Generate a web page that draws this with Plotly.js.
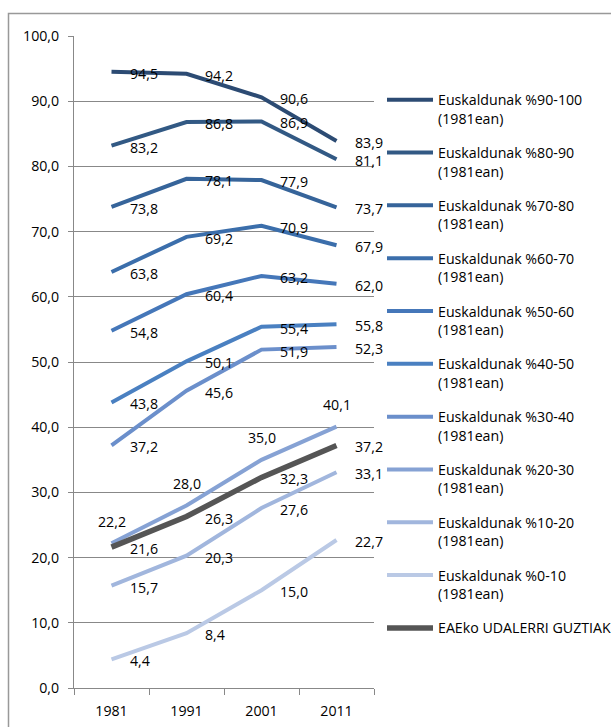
<!DOCTYPE html>
<html>
<head>
<meta charset="utf-8">
<script src="https://cdn.plot.ly/plotly-3.0.1.min.js"></script>
<style>html,body{margin:0;padding:0;background:#fff;}</style>
</head>
<body>
<div id="chart" style="width:611px;height:727px;"></div>
<script>
// ---- data ----
var years = ['1981', '1991', '2001', '2011'];
var seriesNames = [
  'Euskaldunak %90-100<br>(1981ean)',
  'Euskaldunak %80-90<br>(1981ean)',
  'Euskaldunak %70-80<br>(1981ean)',
  'Euskaldunak %60-70<br>(1981ean)',
  'Euskaldunak %50-60<br>(1981ean)',
  'Euskaldunak %40-50<br>(1981ean)',
  'Euskaldunak %30-40<br>(1981ean)',
  'Euskaldunak %20-30<br>(1981ean)',
  'Euskaldunak %10-20<br>(1981ean)',
  'Euskaldunak %0-10<br>(1981ean)',
  'EAEko UDALERRI GUZTIAK'
];
var s90_100 = [94.5, 94.2, 90.6, 83.9];
var s80_90 = [83.2, 86.8, 86.9, 81.1];
var s70_80 = [73.8, 78.1, 77.9, 73.7];
var s60_70 = [63.8, 69.2, 70.9, 67.9];
var s50_60 = [54.8, 60.4, 63.2, 62.0];
var s40_50 = [43.8, 50.1, 55.4, 55.8];
var s30_40 = [37.2, 45.6, 51.9, 52.3];
var s20_30 = [22.2, 28.0, 35.0, 40.1];
var s10_20 = [15.7, 20.3, 27.6, 33.1];
var s0_10 = [4.4, 8.4, 15.0, 22.7];
var eaeGuztiak = [21.6, 26.3, 32.3, 37.2];
var seriesValues = [s90_100, s80_90, s70_80, s60_70, s50_60, s40_50, s30_40, s20_30, s10_20, s0_10, eaeGuztiak];

// ---- styles ----
var colors = ['#2c4b73', '#325984', '#36649a', '#3b6eab', '#4577b9', '#4a80c1',
              '#6b8fcb', '#86a2d4', '#a1b6dd', '#bac9e5', '#555555'];
var widths = [4, 4, 4, 4, 4, 4, 4, 4, 4, 4, 5.5];
var FONT = 'Open Sans, Liberation Sans, sans-serif';
var FS = 14.2;
var labelAbove = 7; // index of the series whose labels sit above the points

var W = 611, H = 727;
var M = {l: 74, r: 237, t: 36, b: 39, autoexpand: false};
var pw = W - M.l - M.r, ph = H - M.t - M.b;

function fmt(v) { return v.toFixed(1).replace('.', ','); }

var traces = seriesValues.map(function (vals, i) {
  return {
    type: 'scatter',
    mode: 'lines',
    x: years,
    y: vals,
    name: seriesNames[i],
    legendgroup: 'g' + i,
    line: {color: colors[i], width: widths[i]},
    hoverinfo: 'skip'
  };
});

// data labels: one per point, placed through the axes (x = category index)
var annotations = [];
seriesValues.forEach(function (vals, i) {
  vals.forEach(function (v, j) {
    var above = (i === labelAbove);
    annotations.push({
      x: j, y: v, xref: 'x', yref: 'y',
      text: fmt(v), showarrow: false,
      xanchor: above ? 'center' : 'left',
      yanchor: 'middle',
      xshift: above ? 0 : 16,
      yshift: above ? 22 : -1.5,
      font: {family: FONT, size: FS, color: '#000'}
    });
  });
});

var layout = {
  width: W, height: H,
  margin: M,
  paper_bgcolor: '#fff', plot_bgcolor: '#fff',
  separators: ', ',
  font: {family: FONT, size: FS, color: '#000'},
  showlegend: true,
  legend: {
    x: (382 - M.l) / pw, xanchor: 'left',
    y: 1 - (84 - M.t) / ph, yanchor: 'top',
    valign: 'top',
    tracegroupgap: 12.9,
    itemwidth: 46,
    font: {family: FONT, size: FS, color: '#000'},
    bgcolor: 'rgba(0,0,0,0)'
  },
  xaxis: {
    type: 'category',
    categoryorder: 'array', categoryarray: years,
    range: [-0.5, 3.5],
    tickson: 'boundaries',
    ticks: 'outside', ticklen: 6, tickcolor: '#888', tickwidth: 1,
    ticklabelstandoff: 10,
    showline: true, linecolor: '#888', linewidth: 1,
    showgrid: false, zeroline: false,
    tickfont: {family: FONT, size: FS, color: '#000'}
  },
  yaxis: {
    range: [0, 100], dtick: 10, tick0: 0,
    tickformat: '.1f',
    ticks: 'outside', ticklen: 5, tickcolor: '#888', tickwidth: 1,
    ticklabelstandoff: 6,
    showline: true, linecolor: '#888', linewidth: 1,
    showgrid: true, gridcolor: '#888', gridwidth: 1,
    zeroline: false,
    tickfont: {family: FONT, size: FS, color: '#000'}
  },
  annotations: annotations,
  shapes: [{
    type: 'rect', xref: 'paper', yref: 'paper', layer: 'below',
    x0: (8.5 - M.l) / pw, x1: (W + 5 - M.l) / pw,
    y0: 1 - (H + 5 - M.t) / ph, y1: 1 - (13.5 - M.t) / ph,
    line: {color: '#999', width: 1.5}, fillcolor: 'rgba(0,0,0,0)'
  }]
};

Plotly.newPlot('chart', traces, layout, {displayModeBar: false, staticPlot: true});
</script>
</body>
</html>
